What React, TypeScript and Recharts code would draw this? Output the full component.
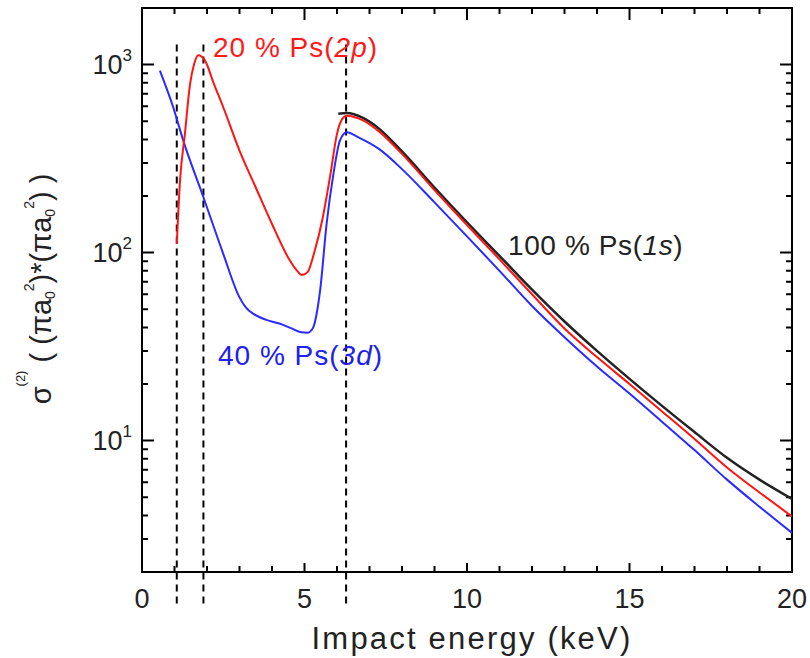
import { LineChart, Line, XAxis, YAxis, ReferenceLine, ReferenceArea } from 'recharts';

// 100 % Ps(1s)
const energy1s = [6.04, 6.3, 6.8, 7.3, 8, 9, 10, 11, 12, 13, 14, 15, 16, 17, 18, 19, 20];
const sigma1s = [547, 552, 520, 455, 345, 222, 145, 96, 63.5, 43, 30, 21.3, 15.3, 11.1, 8.1, 6.2, 4.9];

// 20 % Ps(2p)
const energy2p = [1.07, 1.17, 1.32, 1.48, 1.6, 1.73, 1.94, 2.2, 2.5, 3.0, 3.5, 4.0, 4.5, 4.75, 4.92, 5.1, 5.3, 5.55, 5.8, 6.0, 6.15, 6.3, 6.8, 7.3, 8, 9, 10, 11, 12, 13, 14, 15, 16, 17, 18, 19, 20];
const sigma2p = [111, 241, 428, 789, 1000, 1120, 1050, 800, 593, 349, 222, 142, 94, 81, 76, 79, 100, 150, 262, 428, 510, 535, 505, 440, 335, 215, 140, 92, 60, 39.5, 27.8, 20, 14.3, 10.2, 7.2, 5.3, 3.95];

// 40 % Ps(3d)
const energy3d = [0.55, 0.96, 1.27, 1.89, 2.5, 3.0, 3.2, 3.43, 3.8, 4.25, 4.6, 4.9, 5.1, 5.27, 5.38, 5.48, 5.68, 5.89, 6.09, 6.3, 6.66, 7.3, 8, 9, 10, 11, 12, 13, 14, 15, 16, 17, 18, 19, 20];
const sigma3d = [929, 593, 394, 197, 98.5, 57.8, 51, 47.2, 44, 41.8, 39.5, 37.7, 37.5, 40, 48, 62.8, 142, 262, 394, 437, 410, 355, 278, 185, 122, 80, 52, 35.5, 24.8, 17.8, 12.6, 8.9, 6.2, 4.45, 3.23];

// dashed threshold lines (keV)
const thresholds = [1.07, 1.89, 6.28];

const xTicks = [0, 1, 2, 3, 4, 5, 6, 7, 8, 9, 10, 11, 12, 13, 14, 15, 16, 17, 18, 19, 20];
const xLabels = [0, 5, 10, 15, 20];
const yTicks = [2, 3, 4, 5, 6, 7, 8, 9, 10, 20, 30, 40, 50, 60, 70, 80, 90, 100, 200, 300, 400, 500, 600, 700, 800, 900, 1000, 2000];
const yLabels = [10, 100, 1000];

const X_MIN = 0;
const X_MAX = 20;
const Y_MIN = 2;
const Y_MAX = 2000;

const zip = (xs: number[], ys: number[]) => xs.map((e, i) => ({ e, s: ys[i] }));
const data1s = zip(energy1s, sigma1s);
const data2p = zip(energy2p, sigma2p);
const data3d = zip(energy3d, sigma3d);

const FONT = '"Liberation Sans", Arial, Helvetica, sans-serif';

// plot box size in px, used to turn tick lengths into data units
const PLOT_W = 650;
const PLOT_H = 564;
const pxToKeV = (px: number) => (px * (X_MAX - X_MIN)) / PLOT_W;
const pxToFactor = (px: number) => Math.pow(10, (px * Math.log10(Y_MAX / Y_MIN)) / PLOT_H);
const MAJOR = 12;
const MINOR = 6;

// inward tick marks on all four sides, drawn as one broken polyline (null = gap)
const tickPath: { e: number; s: number | null }[] = [];
xTicks.forEach((t) => {
  const major = xLabels.includes(t);
  const fb = pxToFactor(major ? MAJOR - 3 : MINOR);
  const ft = pxToFactor(major ? MAJOR : MINOR);
  tickPath.push({ e: t, s: Y_MIN }, { e: t, s: Y_MIN * fb }, { e: t, s: null });
  tickPath.push({ e: t, s: Y_MAX }, { e: t, s: Y_MAX / ft }, { e: t, s: null });
});
yTicks.forEach((v) => {
  const d = pxToKeV(yLabels.includes(v) ? MAJOR : MINOR);
  tickPath.push({ e: X_MIN, s: v }, { e: X_MIN + d, s: v }, { e: X_MIN, s: null });
  tickPath.push({ e: X_MAX, s: v }, { e: X_MAX - d, s: v }, { e: X_MAX, s: null });
});

const BottomLabel = ({ x, y, payload }: any) =>
  xLabels.includes(payload.value) ? (
    <text x={x} y={y + 36} textAnchor="middle" fontSize={27} fill="#222" fontFamily={FONT}>
      {payload.value}
    </text>
  ) : (
    <g />
  );

const LeftLabel = ({ x, y, payload }: any) =>
  yLabels.includes(payload.value) ? (
    <text x={x - 10} y={y + 9} textAnchor="end" fontSize={27} fill="#222" fontFamily={FONT}>
      10
      <tspan fontSize={17} dy={-13}>
        {Math.round(Math.log10(payload.value))}
      </tspan>
    </text>
  ) : (
    <g />
  );

export default function App() {
  return (
    <div style={{ position: 'absolute', left: 0, top: 0, width: 810, height: 658, background: '#fff' }}>
      <LineChart width={810} height={658} margin={{ top: 8, right: 18, bottom: 0, left: 0 }}>
        <XAxis
          dataKey="e"
          type="number"
          domain={[X_MIN, X_MAX]}
          ticks={xTicks}
          interval={0}
          allowDataOverflow
          height={86}
          tickSize={0}
          tickMargin={0}
          tickLine={false}
          axisLine={false}
          tick={BottomLabel}
        />
        <YAxis
          type="number"
          scale="log"
          domain={[Y_MIN, Y_MAX]}
          ticks={yTicks}
          interval={0}
          allowDataOverflow
          width={142}
          tickSize={0}
          tickMargin={0}
          tickLine={false}
          axisLine={false}
          tick={LeftLabel}
        />
        <ReferenceArea x1={X_MIN} x2={X_MAX} y1={Y_MIN} y2={Y_MAX} fill="none" fillOpacity={0} stroke="#000" strokeWidth={2} ifOverflow="visible" />
        {thresholds.map((t) => (
          <ReferenceLine
            key={t}
            segment={[
              { x: t, y: 1280 },
              { x: t, y: 1.28 },
            ]}
            ifOverflow="visible"
            stroke="#000"
            strokeWidth={2}
            strokeDasharray="7 5"
          />
        ))}
        <Line data={tickPath} dataKey="s" type="linear" stroke="#000" strokeWidth={2} dot={false} activeDot={false} legendType="none" isAnimationActive={false} />
        <Line data={data1s} dataKey="s" type="monotone" stroke="#222" strokeWidth={2.5} dot={false} isAnimationActive={false} />
        <Line data={data3d} dataKey="s" type="monotone" stroke="#2a2aff" strokeWidth={2} dot={false} isAnimationActive={false} />
        <Line data={data2p} dataKey="s" type="monotone" stroke="#ff1414" strokeWidth={2} dot={false} isAnimationActive={false} />
      </LineChart>
      <svg width={810} height={658} style={{ position: 'absolute', left: 0, top: 0, pointerEvents: 'none' }} fontFamily={FONT}>
        <text x={213} y={57} fontSize={28} fill="#ff1a1a" letterSpacing={1}>
          20 % Ps(<tspan fontStyle="italic">2p</tspan>)
        </text>
        <text x={218} y={365} fontSize={28} fill="#2020f0" letterSpacing={1}>
          40 % Ps(<tspan fontStyle="italic">3d</tspan>)
        </text>
        <text x={508} y={255} fontSize={28} fill="#222" letterSpacing={0.6}>
          100 % Ps(<tspan fontStyle="italic">1s</tspan>)
        </text>
        <text x={472} y={649} fontSize={31} fill="#222" textAnchor="middle" letterSpacing={2.2}>
          Impact energy (keV)
        </text>
        <text transform="translate(51,289) rotate(-90)" textAnchor="middle" fontSize={29} fill="#222">
          σ
          <tspan fontSize={13} dy={-26}>(2)</tspan>
          <tspan dy={26}>{'  ( (πa'}</tspan>
          <tspan fontSize={14} dy={4}>0</tspan>
          <tspan fontSize={14} dy={-21}>2</tspan>
          <tspan dy={17}>{')*(πa'}</tspan>
          <tspan fontSize={14} dy={4}>0</tspan>
          <tspan fontSize={14} dy={-21}>2</tspan>
          <tspan dy={17}>{') )'}</tspan>
        </text>
      </svg>
    </div>
  );
}
